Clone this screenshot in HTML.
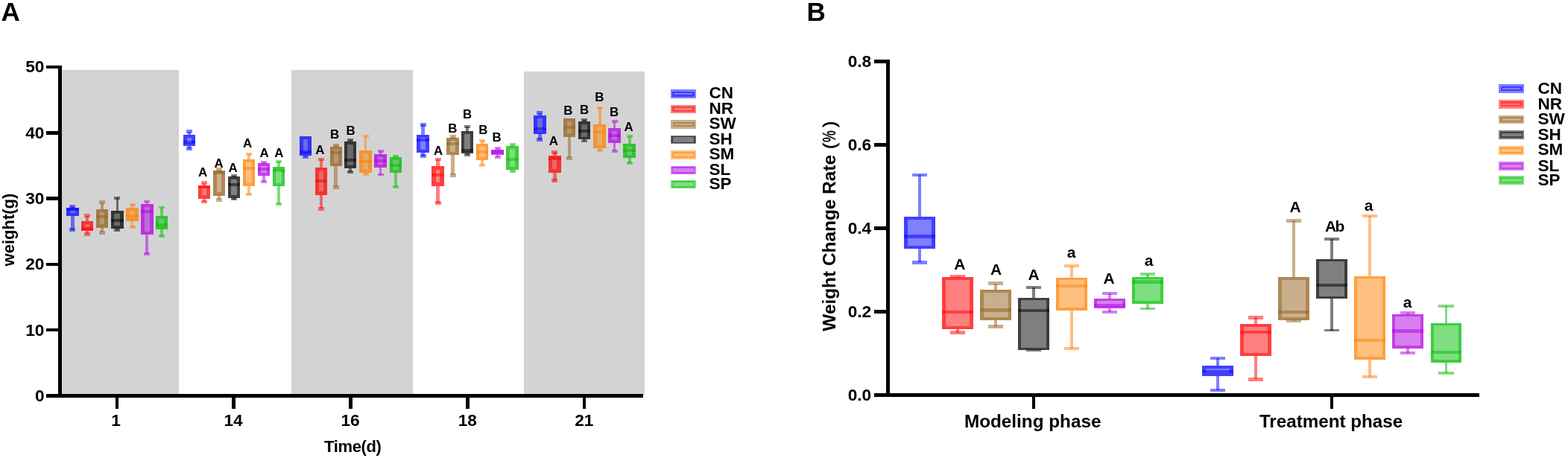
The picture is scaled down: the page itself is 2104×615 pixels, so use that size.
<!DOCTYPE html>
<html><head><meta charset="utf-8"><title>Figure</title>
<style>html,body{margin:0;padding:0;background:#fff;}svg{display:block;}</style>
</head><body>
<svg width="2104" height="615" viewBox="0 0 2104 615" font-family="'Liberation Sans', Arial, sans-serif" font-weight="bold" shape-rendering="crispEdges">
<rect width="2104" height="615" fill="#ffffff"/>
<rect x="83" y="94" width="156.6" height="435.6" fill="#d3d3d3"/>
<rect x="391" y="94" width="162.8" height="435.6" fill="#d3d3d3"/>
<rect x="703.2" y="95.6" width="161.8" height="434" fill="#d3d3d3"/>
<g fill="#0000ff" fill-opacity="0.5"><rect x="95.3" y="277" width="4.2" height="2"/><rect x="95.3" y="289.9" width="4.2" height="18.6"/><rect x="93.4" y="274.9" width="8" height="4.2"/><rect x="93.4" y="306.4" width="8" height="4.2"/><rect x="89.25" y="279" width="16.3" height="10.9"/><path fill-rule="evenodd" d="M89.25 279h16.3v10.9h-16.3z M94.26 283.31h6.28v2.28h-6.28z"/><rect x="89.25" y="279" width="16.3" height="4"/></g>
<g fill="#ff0000" fill-opacity="0.5"><rect x="114.85" y="289.5" width="4.5" height="7.3"/><rect x="114.85" y="309.9" width="4.5" height="4.4"/><rect x="113.1" y="287.25" width="8" height="4.5"/><rect x="113.1" y="312.05" width="8" height="4.5"/><rect x="108.95" y="296.8" width="16.3" height="13.1"/><path fill-rule="evenodd" d="M108.95 296.8h16.3v13.1h-16.3z M114.18 301.33h5.83v4.03h-5.83z"/><rect x="108.95" y="305" width="16.3" height="4"/></g>
<g fill="#94601c" fill-opacity="0.5"><rect x="134.65" y="271.5" width="4.7" height="9.5"/><rect x="134.65" y="305.6" width="4.7" height="6.6"/><rect x="133" y="269.15" width="8" height="4.7"/><rect x="133" y="309.85" width="8" height="4.7"/><rect x="128.85" y="281" width="16.3" height="24.6"/><path fill-rule="evenodd" d="M128.85 281h16.3v24.6h-16.3z M133.86 285.31h6.28v15.98h-6.28z"/><rect x="128.85" y="289.2" width="16.3" height="4"/></g>
<g fill="#000000" fill-opacity="0.5"><rect x="155.55" y="266" width="3.7" height="17.2"/><rect x="155.55" y="306.9" width="3.7" height="1.8"/><rect x="153.4" y="264.15" width="8" height="3.7"/><rect x="153.4" y="306.85" width="8" height="3.7"/><rect x="149.25" y="283.2" width="16.3" height="23.7"/><path fill-rule="evenodd" d="M149.25 283.2h16.3v23.7h-16.3z M153.48 286.73h7.84v16.64h-7.84z"/><rect x="149.25" y="293.8" width="16.3" height="4"/></g>
<g fill="#ff8000" fill-opacity="0.5"><rect x="175.55" y="275" width="3.9" height="3.9"/><rect x="175.55" y="296.6" width="3.9" height="8.4"/><rect x="173.5" y="273.05" width="8" height="3.9"/><rect x="173.5" y="303.05" width="8" height="3.9"/><rect x="169.35" y="278.9" width="16.3" height="17.7"/><path fill-rule="evenodd" d="M169.35 278.9h16.3v17.7h-16.3z M173.69 282.54h7.61v10.41h-7.61z"/><rect x="169.35" y="287.5" width="16.3" height="4"/></g>
<g fill="#b000e0" fill-opacity="0.5"><rect x="195.45" y="270.5" width="3.9" height="3.5"/><rect x="195.45" y="314.5" width="3.9" height="26.9"/><rect x="193.4" y="268.55" width="8" height="3.9"/><rect x="193.4" y="339.45" width="8" height="3.9"/><rect x="189.25" y="274" width="16.3" height="40.5"/><path fill-rule="evenodd" d="M189.25 274h16.3v40.5h-16.3z M193.59 277.64h7.61v33.21h-7.61z"/><rect x="189.25" y="281.5" width="16.3" height="4"/></g>
<g fill="#00be00" fill-opacity="0.5"><rect x="214.9" y="278.5" width="3.8" height="11.7"/><rect x="214.9" y="307.8" width="3.8" height="9"/><rect x="212.8" y="276.6" width="8" height="3.8"/><rect x="212.8" y="314.9" width="8" height="3.8"/><rect x="208.65" y="290.2" width="16.3" height="17.6"/><path fill-rule="evenodd" d="M208.65 290.2h16.3v17.6h-16.3z M213.1 293.95h7.39v10.09h-7.39z"/><rect x="208.65" y="300" width="16.3" height="4"/></g>
<g fill="#0000ff" fill-opacity="0.5"><rect x="251.9" y="176.5" width="4.2" height="4.6"/><rect x="251.9" y="196" width="4.2" height="3.5"/><rect x="250" y="174.4" width="8" height="4.2"/><rect x="250" y="197.4" width="8" height="4.2"/><rect x="245.85" y="181.1" width="16.3" height="14.9"/><path fill-rule="evenodd" d="M245.85 181.1h16.3v14.9h-16.3z M250.86 185.41h6.28v6.28h-6.28z"/><rect x="245.85" y="188.5" width="16.3" height="4"/></g>
<g fill="#ff0000" fill-opacity="0.5"><rect x="271.75" y="245.6" width="4.5" height="3.1"/><rect x="271.75" y="266.6" width="4.5" height="4.2"/><rect x="270" y="243.35" width="8" height="4.5"/><rect x="270" y="268.55" width="8" height="4.5"/><rect x="265.85" y="248.7" width="16.3" height="17.9"/><path fill-rule="evenodd" d="M265.85 248.7h16.3v17.9h-16.3z M271.08 253.23h5.83v8.83h-5.83z"/><rect x="265.85" y="249" width="16.3" height="4"/></g>
<g fill="#94601c" fill-opacity="0.5"><rect x="291.65" y="227.5" width="4.7" height="1.5"/><rect x="291.65" y="262.7" width="4.7" height="5.7"/><rect x="290" y="225.15" width="8" height="4.7"/><rect x="290" y="266.05" width="8" height="4.7"/><rect x="285.85" y="229" width="16.3" height="33.7"/><path fill-rule="evenodd" d="M285.85 229h16.3v33.7h-16.3z M290.86 233.31h6.28v25.08h-6.28z"/><rect x="285.85" y="229.5" width="16.3" height="4"/></g>
<g fill="#000000" fill-opacity="0.5"><rect x="312.15" y="235.7" width="3.7" height="1.4"/><rect x="312.15" y="265.7" width="3.7" height="1.8"/><rect x="310" y="233.85" width="8" height="3.7"/><rect x="310" y="265.65" width="8" height="3.7"/><rect x="305.85" y="237.1" width="16.3" height="28.6"/><path fill-rule="evenodd" d="M305.85 237.1h16.3v28.6h-16.3z M310.08 240.63h7.84v21.54h-7.84z"/><rect x="305.85" y="246.1" width="16.3" height="4"/></g>
<g fill="#ff8000" fill-opacity="0.5"><rect x="332.05" y="206.8" width="3.9" height="7.2"/><rect x="332.05" y="249.8" width="3.9" height="11.1"/><rect x="330" y="204.85" width="8" height="3.9"/><rect x="330" y="258.95" width="8" height="3.9"/><rect x="325.85" y="214" width="16.3" height="35.8"/><path fill-rule="evenodd" d="M325.85 214h16.3v35.8h-16.3z M330.19 217.64h7.61v28.51h-7.61z"/><rect x="325.85" y="223.9" width="16.3" height="4"/></g>
<g fill="#b000e0" fill-opacity="0.5"><rect x="352.05" y="218" width="3.9" height="1"/><rect x="352.05" y="235.8" width="3.9" height="8.1"/><rect x="350" y="216.05" width="8" height="3.9"/><rect x="350" y="241.95" width="8" height="3.9"/><rect x="345.85" y="219" width="16.3" height="16.8"/><path fill-rule="evenodd" d="M345.85 219h16.3v16.8h-16.3z M350.19 222.64h7.61v9.51h-7.61z"/><rect x="345.85" y="225.2" width="16.3" height="4"/></g>
<g fill="#00be00" fill-opacity="0.5"><rect x="372.1" y="217" width="3.8" height="6.8"/><rect x="372.1" y="249.8" width="3.8" height="24.2"/><rect x="370" y="215.1" width="8" height="3.8"/><rect x="370" y="272.1" width="8" height="3.8"/><rect x="365.85" y="223.8" width="16.3" height="26"/><path fill-rule="evenodd" d="M365.85 223.8h16.3v26h-16.3z M370.3 227.55h7.39v18.49h-7.39z"/><rect x="365.85" y="227" width="16.3" height="4"/></g>
<g fill="#0000ff" fill-opacity="0.5"><rect x="408.2" y="208.6" width="4.2" height="2.1"/><rect x="406.3" y="208.6" width="8" height="4.2"/><rect x="402.15" y="182.8" width="16.3" height="25.8"/><path fill-rule="evenodd" d="M402.15 182.8h16.3v25.8h-16.3z M407.16 187.11h6.28v17.18h-6.28z"/><rect x="402.15" y="201.6" width="16.3" height="4"/></g>
<g fill="#ff0000" fill-opacity="0.5"><rect x="428.65" y="214.1" width="4.5" height="10.8"/><rect x="428.65" y="261.9" width="4.5" height="18.4"/><rect x="426.9" y="211.85" width="8" height="4.5"/><rect x="426.9" y="278.05" width="8" height="4.5"/><rect x="422.75" y="224.9" width="16.3" height="37"/><path fill-rule="evenodd" d="M422.75 224.9h16.3v37h-16.3z M427.98 229.43h5.83v27.93h-5.83z"/><rect x="422.75" y="240.6" width="16.3" height="4"/></g>
<g fill="#94601c" fill-opacity="0.5"><rect x="448.45" y="194.9" width="4.7" height="2.1"/><rect x="448.45" y="223.4" width="4.7" height="27.8"/><rect x="446.8" y="192.55" width="8" height="4.7"/><rect x="446.8" y="248.85" width="8" height="4.7"/><rect x="442.65" y="197" width="16.3" height="26.4"/><path fill-rule="evenodd" d="M442.65 197h16.3v26.4h-16.3z M447.66 201.31h6.28v17.78h-6.28z"/><rect x="442.65" y="203" width="16.3" height="4"/></g>
<g fill="#000000" fill-opacity="0.5"><rect x="468.35" y="188.2" width="3.7" height="1.8"/><rect x="468.35" y="225.5" width="3.7" height="5.3"/><rect x="466.2" y="186.35" width="8" height="3.7"/><rect x="466.2" y="228.95" width="8" height="3.7"/><rect x="462.05" y="190" width="16.3" height="35.5"/><path fill-rule="evenodd" d="M462.05 190h16.3v35.5h-16.3z M466.28 193.53h7.84v28.44h-7.84z"/><rect x="462.05" y="213.2" width="16.3" height="4"/></g>
<g fill="#ff8000" fill-opacity="0.5"><rect x="488.55" y="183" width="3.9" height="19"/><rect x="488.55" y="231.8" width="3.9" height="2.5"/><rect x="486.5" y="181.05" width="8" height="3.9"/><rect x="486.5" y="232.35" width="8" height="3.9"/><rect x="482.35" y="202" width="16.3" height="29.8"/><path fill-rule="evenodd" d="M482.35 202h16.3v29.8h-16.3z M486.69 205.64h7.61v22.51h-7.61z"/><rect x="482.35" y="214.7" width="16.3" height="4"/></g>
<g fill="#b000e0" fill-opacity="0.5"><rect x="508.55" y="202.9" width="3.9" height="4.2"/><rect x="508.55" y="224.8" width="3.9" height="9.7"/><rect x="506.5" y="200.95" width="8" height="3.9"/><rect x="506.5" y="232.55" width="8" height="3.9"/><rect x="502.35" y="207.1" width="16.3" height="17.7"/><path fill-rule="evenodd" d="M502.35 207.1h16.3v17.7h-16.3z M506.69 210.74h7.61v10.41h-7.61z"/><rect x="502.35" y="213.8" width="16.3" height="4"/></g>
<g fill="#00be00" fill-opacity="0.5"><rect x="529.1" y="209.9" width="3.8" height="1.1"/><rect x="529.1" y="231.8" width="3.8" height="19.2"/><rect x="527" y="208" width="8" height="3.8"/><rect x="527" y="249.1" width="8" height="3.8"/><rect x="522.85" y="211" width="16.3" height="20.8"/><path fill-rule="evenodd" d="M522.85 211h16.3v20.8h-16.3z M527.3 214.75h7.39v13.29h-7.39z"/><rect x="522.85" y="220.1" width="16.3" height="4"/></g>
<g fill="#0000ff" fill-opacity="0.5"><rect x="565.4" y="167.4" width="4.2" height="13.6"/><rect x="565.4" y="205" width="4.2" height="4.5"/><rect x="563.5" y="165.3" width="8" height="4.2"/><rect x="563.5" y="207.4" width="8" height="4.2"/><rect x="559.35" y="181" width="16.3" height="24"/><path fill-rule="evenodd" d="M559.35 181h16.3v24h-16.3z M564.36 185.31h6.28v15.38h-6.28z"/><rect x="559.35" y="185.8" width="16.3" height="4"/></g>
<g fill="#ff0000" fill-opacity="0.5"><rect x="585.25" y="214.2" width="4.5" height="9"/><rect x="585.25" y="249.9" width="4.5" height="22.8"/><rect x="583.5" y="211.95" width="8" height="4.5"/><rect x="583.5" y="270.45" width="8" height="4.5"/><rect x="579.35" y="223.2" width="16.3" height="26.7"/><path fill-rule="evenodd" d="M579.35 223.2h16.3v26.7h-16.3z M584.58 227.73h5.83v17.63h-5.83z"/><rect x="579.35" y="233.1" width="16.3" height="4"/></g>
<g fill="#94601c" fill-opacity="0.5"><rect x="605.15" y="183.5" width="4.7" height="1.4"/><rect x="605.15" y="208.4" width="4.7" height="26.8"/><rect x="603.5" y="181.15" width="8" height="4.7"/><rect x="603.5" y="232.85" width="8" height="4.7"/><rect x="599.35" y="184.9" width="16.3" height="23.5"/><path fill-rule="evenodd" d="M599.35 184.9h16.3v23.5h-16.3z M604.36 189.21h6.28v14.88h-6.28z"/><rect x="599.35" y="190.6" width="16.3" height="4"/></g>
<g fill="#000000" fill-opacity="0.5"><rect x="625.15" y="170.2" width="3.7" height="5.8"/><rect x="625.15" y="206.1" width="3.7" height="1.7"/><rect x="623" y="168.35" width="8" height="3.7"/><rect x="623" y="205.95" width="8" height="3.7"/><rect x="618.85" y="176" width="16.3" height="30.1"/><path fill-rule="evenodd" d="M618.85 176h16.3v30.1h-16.3z M623.08 179.53h7.84v23.04h-7.84z"/><rect x="618.85" y="199.7" width="16.3" height="4"/></g>
<g fill="#ff8000" fill-opacity="0.5"><rect x="645.35" y="189.4" width="3.9" height="3.7"/><rect x="645.35" y="214.7" width="3.9" height="7"/><rect x="643.3" y="187.45" width="8" height="3.9"/><rect x="643.3" y="219.75" width="8" height="3.9"/><rect x="639.15" y="193.1" width="16.3" height="21.6"/><path fill-rule="evenodd" d="M639.15 193.1h16.3v21.6h-16.3z M643.49 196.74h7.61v14.31h-7.61z"/><rect x="639.15" y="202.3" width="16.3" height="4"/></g>
<g fill="#b000e0" fill-opacity="0.5"><rect x="665.55" y="199.1" width="3.9" height="1.8"/><rect x="665.55" y="207.7" width="3.9" height="3.5"/><rect x="663.5" y="197.15" width="8" height="3.9"/><rect x="663.5" y="209.25" width="8" height="3.9"/><rect x="659.35" y="200.9" width="16.3" height="6.8"/><rect x="659.35" y="200.9" width="16.3" height="6.8"/><rect x="659.35" y="202.3" width="16.3" height="4"/></g>
<g fill="#00be00" fill-opacity="0.5"><rect x="685.6" y="193.7" width="3.8" height="2.3"/><rect x="685.6" y="227.7" width="3.8" height="2"/><rect x="683.5" y="191.8" width="8" height="3.8"/><rect x="683.5" y="227.8" width="8" height="3.8"/><rect x="679.35" y="196" width="16.3" height="31.7"/><path fill-rule="evenodd" d="M679.35 196h16.3v31.7h-16.3z M683.8 199.75h7.39v24.19h-7.39z"/><rect x="679.35" y="211.8" width="16.3" height="4"/></g>
<g fill="#0000ff" fill-opacity="0.5"><rect x="722.3" y="151.5" width="4.2" height="3.4"/><rect x="722.3" y="179.9" width="4.2" height="7.6"/><rect x="720.4" y="149.4" width="8" height="4.2"/><rect x="720.4" y="185.4" width="8" height="4.2"/><rect x="716.25" y="154.9" width="16.3" height="25"/><path fill-rule="evenodd" d="M716.25 154.9h16.3v25h-16.3z M721.26 159.21h6.28v16.38h-6.28z"/><rect x="716.25" y="171.1" width="16.3" height="4"/></g>
<g fill="#ff0000" fill-opacity="0.5"><rect x="742.15" y="204.4" width="4.5" height="4.5"/><rect x="742.15" y="231.7" width="4.5" height="10.8"/><rect x="740.4" y="202.15" width="8" height="4.5"/><rect x="740.4" y="240.25" width="8" height="4.5"/><rect x="736.25" y="208.9" width="16.3" height="22.8"/><path fill-rule="evenodd" d="M736.25 208.9h16.3v22.8h-16.3z M741.48 213.43h5.83v13.73h-5.83z"/><rect x="736.25" y="210.5" width="16.3" height="4"/></g>
<g fill="#94601c" fill-opacity="0.5"><rect x="761.65" y="183.5" width="4.7" height="28.9"/><rect x="760" y="210.05" width="8" height="4.7"/><rect x="755.85" y="158.7" width="16.3" height="24.8"/><path fill-rule="evenodd" d="M755.85 158.7h16.3v24.8h-16.3z M760.86 163.01h6.28v16.18h-6.28z"/><rect x="755.85" y="169.3" width="16.3" height="4"/></g>
<g fill="#000000" fill-opacity="0.5"><rect x="782.15" y="161.1" width="3.7" height="1.9"/><rect x="782.15" y="187.3" width="3.7" height="2.1"/><rect x="780" y="159.25" width="8" height="3.7"/><rect x="780" y="187.55" width="8" height="3.7"/><rect x="775.85" y="163" width="16.3" height="24.3"/><path fill-rule="evenodd" d="M775.85 163h16.3v24.3h-16.3z M780.08 166.53h7.84v17.24h-7.84z"/><rect x="775.85" y="174.1" width="16.3" height="4"/></g>
<g fill="#ff8000" fill-opacity="0.5"><rect x="802.65" y="144.6" width="3.9" height="22.1"/><rect x="802.65" y="198.9" width="3.9" height="3.5"/><rect x="800.6" y="142.65" width="8" height="3.9"/><rect x="800.6" y="200.45" width="8" height="3.9"/><rect x="796.45" y="166.7" width="16.3" height="32.2"/><path fill-rule="evenodd" d="M796.45 166.7h16.3v32.2h-16.3z M800.79 170.34h7.61v24.91h-7.61z"/><rect x="796.45" y="175" width="16.3" height="4"/></g>
<g fill="#b000e0" fill-opacity="0.5"><rect x="822.55" y="162.9" width="3.9" height="9.1"/><rect x="822.55" y="191.9" width="3.9" height="11"/><rect x="820.5" y="160.95" width="8" height="3.9"/><rect x="820.5" y="200.95" width="8" height="3.9"/><rect x="816.35" y="172" width="16.3" height="19.9"/><path fill-rule="evenodd" d="M816.35 172h16.3v19.9h-16.3z M820.69 175.64h7.61v12.61h-7.61z"/><rect x="816.35" y="179.6" width="16.3" height="4"/></g>
<g fill="#00be00" fill-opacity="0.5"><rect x="842.7" y="182.9" width="3.8" height="10.3"/><rect x="842.7" y="212" width="3.8" height="6.7"/><rect x="840.6" y="181" width="8" height="3.8"/><rect x="840.6" y="216.8" width="8" height="3.8"/><rect x="836.45" y="193.2" width="16.3" height="18.8"/><path fill-rule="evenodd" d="M836.45 193.2h16.3v18.8h-16.3z M840.9 196.95h7.39v11.29h-7.39z"/><rect x="836.45" y="199.8" width="16.3" height="4"/></g>
<g fill="#0000ff" fill-opacity="0.5"><rect x="1231.8" y="235" width="4.2" height="56.2"/><rect x="1231.8" y="333.9" width="4.2" height="18.5"/><rect x="1223.7" y="232.9" width="20.4" height="4.2"/><rect x="1223.7" y="350.3" width="20.4" height="4.2"/><rect x="1213" y="291.2" width="41.8" height="42.7"/><path fill-rule="evenodd" d="M1213 291.2h41.8v42.7h-41.8z M1217.5 295h32.8v35.1h-32.8z"/><rect x="1213" y="315.3" width="41.8" height="4.2"/></g>
<g fill="#ff0000" fill-opacity="0.5"><rect x="1282.75" y="371" width="4.5" height="1.1"/><rect x="1282.75" y="441.9" width="4.5" height="4.6"/><rect x="1274.8" y="368.75" width="20.4" height="4.5"/><rect x="1274.8" y="444.25" width="20.4" height="4.5"/><rect x="1264.1" y="372.1" width="41.8" height="69.8"/><path fill-rule="evenodd" d="M1264.1 372.1h41.8v69.8h-41.8z M1268.8 376.1h32.4v61.8h-32.4z"/><rect x="1264.1" y="416.5" width="41.8" height="4.2"/></g>
<g fill="#94601c" fill-opacity="0.5"><rect x="1333.75" y="380.5" width="4.7" height="8.5"/><rect x="1333.75" y="429.9" width="4.7" height="8.7"/><rect x="1325.9" y="378.15" width="20.4" height="4.7"/><rect x="1325.9" y="436.25" width="20.4" height="4.7"/><rect x="1315.2" y="389" width="41.8" height="40.9"/><path fill-rule="evenodd" d="M1315.2 389h41.8v40.9h-41.8z M1319.7 392.8h32.8v33.3h-32.8z"/><rect x="1315.2" y="414.4" width="41.8" height="4.2"/></g>
<g fill="#000000" fill-opacity="0.5"><rect x="1385.15" y="385.7" width="3.7" height="14.5"/><rect x="1376.8" y="383.85" width="20.4" height="3.7"/><rect x="1376.8" y="468.65" width="20.4" height="3.7"/><rect x="1366.1" y="400.2" width="41.8" height="70.1"/><path fill-rule="evenodd" d="M1366.1 400.2h41.8v70.1h-41.8z M1369.9 403.3h34.2v63.9h-34.2z"/><rect x="1366.1" y="415.2" width="41.8" height="4.2"/></g>
<g fill="#ff8000" fill-opacity="0.5"><rect x="1435.85" y="357" width="3.9" height="16.2"/><rect x="1435.85" y="416.6" width="3.9" height="51.4"/><rect x="1427.6" y="355.05" width="20.4" height="3.9"/><rect x="1427.6" y="466.05" width="20.4" height="3.9"/><rect x="1416.9" y="373.2" width="41.8" height="43.4"/><path fill-rule="evenodd" d="M1416.9 373.2h41.8v43.4h-41.8z M1420.8 376.4h34v37h-34z"/><rect x="1416.9" y="381.9" width="41.8" height="4.2"/></g>
<g fill="#b000e0" fill-opacity="0.5"><rect x="1487.05" y="393.9" width="3.9" height="7"/><rect x="1487.05" y="413.8" width="3.9" height="5.1"/><rect x="1478.8" y="391.95" width="20.4" height="3.9"/><rect x="1478.8" y="416.95" width="20.4" height="3.9"/><rect x="1468.1" y="400.9" width="41.8" height="12.9"/><path fill-rule="evenodd" d="M1468.1 400.9h41.8v12.9h-41.8z M1472 404.1h34v6.5h-34z"/><rect x="1468.1" y="407.9" width="41.8" height="4.2"/></g>
<g fill="#00be00" fill-opacity="0.5"><rect x="1538" y="368.2" width="3.8" height="3.8"/><rect x="1538" y="407.6" width="3.8" height="6.9"/><rect x="1529.7" y="366.3" width="20.4" height="3.8"/><rect x="1529.7" y="412.6" width="20.4" height="3.8"/><rect x="1519" y="372" width="41.8" height="35.6"/><path fill-rule="evenodd" d="M1519 372h41.8v35.6h-41.8z M1523 375.3h33.8v29h-33.8z"/><rect x="1519" y="376.4" width="41.8" height="4.2"/></g>
<g fill="#0000ff" fill-opacity="0.5"><rect x="1631.9" y="481" width="4.2" height="9.9"/><rect x="1631.9" y="504.6" width="4.2" height="19.5"/><rect x="1623.8" y="478.9" width="20.4" height="4.2"/><rect x="1623.8" y="522" width="20.4" height="4.2"/><rect x="1613.1" y="490.9" width="41.8" height="13.7"/><path fill-rule="evenodd" d="M1613.1 490.9h41.8v13.7h-41.8z M1617.6 494.7h32.8v6.1h-32.8z"/><rect x="1613.1" y="496.6" width="41.8" height="4.2"/></g>
<g fill="#ff0000" fill-opacity="0.5"><rect x="1682.55" y="426.4" width="4.5" height="8.5"/><rect x="1682.55" y="477.8" width="4.5" height="31.5"/><rect x="1674.6" y="424.15" width="20.4" height="4.5"/><rect x="1674.6" y="507.05" width="20.4" height="4.5"/><rect x="1663.9" y="434.9" width="41.8" height="42.9"/><path fill-rule="evenodd" d="M1663.9 434.9h41.8v42.9h-41.8z M1668.6 438.9h32.4v34.9h-32.4z"/><rect x="1663.9" y="443.9" width="41.8" height="4.2"/></g>
<g fill="#94601c" fill-opacity="0.5"><rect x="1733.65" y="296.4" width="4.7" height="75.6"/><rect x="1733.65" y="429.8" width="4.7" height="1.2"/><rect x="1725.8" y="294.05" width="20.4" height="4.7"/><rect x="1725.8" y="428.65" width="20.4" height="4.7"/><rect x="1715.1" y="372" width="41.8" height="57.8"/><path fill-rule="evenodd" d="M1715.1 372h41.8v57.8h-41.8z M1719.6 375.8h32.8v50.2h-32.8z"/><rect x="1715.1" y="416.8" width="41.8" height="4.2"/></g>
<g fill="#000000" fill-opacity="0.5"><rect x="1785.15" y="321" width="3.7" height="27"/><rect x="1785.15" y="400.6" width="3.7" height="42.9"/><rect x="1776.8" y="319.15" width="20.4" height="3.7"/><rect x="1776.8" y="441.65" width="20.4" height="3.7"/><rect x="1766.1" y="348" width="41.8" height="52.6"/><path fill-rule="evenodd" d="M1766.1 348h41.8v52.6h-41.8z M1769.9 351.1h34.2v46.4h-34.2z"/><rect x="1766.1" y="380.9" width="41.8" height="4.2"/></g>
<g fill="#ff8000" fill-opacity="0.5"><rect x="1835.85" y="290" width="3.9" height="81"/><rect x="1835.85" y="482.6" width="3.9" height="23.4"/><rect x="1827.6" y="288.05" width="20.4" height="3.9"/><rect x="1827.6" y="504.05" width="20.4" height="3.9"/><rect x="1816.9" y="371" width="41.8" height="111.6"/><path fill-rule="evenodd" d="M1816.9 371h41.8v111.6h-41.8z M1820.8 374.2h34v105.2h-34z"/><rect x="1816.9" y="454.9" width="41.8" height="4.2"/></g>
<g fill="#b000e0" fill-opacity="0.5"><rect x="1886.95" y="420" width="3.9" height="2.1"/><rect x="1886.95" y="467.5" width="3.9" height="6.3"/><rect x="1878.7" y="418.05" width="20.4" height="3.9"/><rect x="1878.7" y="471.85" width="20.4" height="3.9"/><rect x="1868" y="422.1" width="41.8" height="45.4"/><path fill-rule="evenodd" d="M1868 422.1h41.8v45.4h-41.8z M1871.9 425.3h34v39h-34z"/><rect x="1868" y="442.3" width="41.8" height="4.2"/></g>
<g fill="#00be00" fill-opacity="0.5"><rect x="1938.6" y="411" width="3.8" height="23"/><rect x="1938.6" y="486.6" width="3.8" height="14.1"/><rect x="1930.3" y="409.1" width="20.4" height="3.8"/><rect x="1930.3" y="498.8" width="20.4" height="3.8"/><rect x="1919.6" y="434" width="41.8" height="52.6"/><path fill-rule="evenodd" d="M1919.6 434h41.8v52.6h-41.8z M1923.6 437.3h33.8v46h-33.8z"/><rect x="1919.6" y="470.5" width="41.8" height="4.2"/></g>
<g fill="#000">
<rect x="78.2" y="88" width="4.6" height="446.2"/>
<rect x="62.4" y="529.2" width="800.8" height="4.6"/>
<rect x="62.4" y="529.3" width="20" height="4.4"/>
<rect x="62.4" y="441" width="20" height="4.4"/>
<rect x="62.4" y="352.7" width="20" height="4.4"/>
<rect x="62.4" y="264.4" width="20" height="4.4"/>
<rect x="62.4" y="176.1" width="20" height="4.4"/>
<rect x="62.4" y="87.8" width="20" height="4.4"/>
<rect x="154.8" y="531" width="4.4" height="18"/>
<rect x="311.1" y="531" width="4.4" height="18"/>
<rect x="468.1" y="531" width="4.4" height="18"/>
<rect x="625.3" y="531" width="4.4" height="18"/>
<rect x="781.8" y="531" width="4.4" height="18"/>
</g>
<g fill="#000">
<rect x="1189.2" y="80.2" width="4.6" height="452.4"/>
<rect x="1173.1" y="528" width="811.7" height="4.6"/>
<rect x="1173.1" y="528" width="20" height="4.6"/>
<rect x="1173.1" y="416.05" width="20" height="4.6"/>
<rect x="1173.1" y="304.1" width="20" height="4.6"/>
<rect x="1173.1" y="192.15" width="20" height="4.6"/>
<rect x="1173.1" y="80.2" width="20" height="4.6"/>
<rect x="1384.5" y="530" width="4.4" height="19"/>
<rect x="1784.8" y="530" width="4.4" height="19"/>
</g>
<text x="59.5" y="538.9" font-size="22.7" text-anchor="end">0</text>
<text x="59.5" y="450.6" font-size="22.7" text-anchor="end">10</text>
<text x="59.5" y="362.3" font-size="22.7" text-anchor="end">20</text>
<text x="59.5" y="274" font-size="22.7" text-anchor="end">30</text>
<text x="59.5" y="185.7" font-size="22.7" text-anchor="end">40</text>
<text x="59.5" y="97.4" font-size="22.7" text-anchor="end">50</text>
<text x="155.5" y="572.1" font-size="22.7" text-anchor="middle">1</text>
<text x="313.1" y="572.1" font-size="22.7" text-anchor="middle">14</text>
<text x="470.1" y="572.1" font-size="22.7" text-anchor="middle">16</text>
<text x="627.3" y="572.1" font-size="22.7" text-anchor="middle">18</text>
<text x="783.8" y="572.1" font-size="22.7" text-anchor="middle">21</text>
<text x="473.3" y="607.2" font-size="22" text-anchor="middle" letter-spacing="-0.35">Time(d)</text>
<text x="18.8" y="308.5" font-size="22" text-anchor="middle" transform="rotate(-90 18.8 308.5)">weight(g)</text>
<text x="1169.2" y="537.9" font-size="22.7" text-anchor="end">0.0</text>
<text x="1169.2" y="425.95" font-size="22.7" text-anchor="end">0.2</text>
<text x="1169.2" y="314" font-size="22.7" text-anchor="end">0.4</text>
<text x="1169.2" y="202.05" font-size="22.7" text-anchor="end">0.6</text>
<text x="1169.2" y="90.1" font-size="22.7" text-anchor="end">0.8</text>
<text x="1385.7" y="573.6" font-size="24.3" text-anchor="middle">Modeling phase</text>
<text x="1786" y="573.6" font-size="24.2" text-anchor="middle">Treatment phase</text>
<text transform="translate(1121.4 444.7) rotate(-90)" font-size="24.4" text-anchor="start">Weight Change Rate</text>
<text transform="translate(1121.4 196.0) rotate(-90)" font-size="24" font-weight="normal" stroke="#000" stroke-width="0.7" text-anchor="middle">(</text>
<text transform="translate(1121.4 183.0) rotate(-90) scale(0.74 1)" font-size="24" font-weight="normal" stroke="#000" stroke-width="0.5" text-anchor="middle">%</text>
<text transform="translate(1121.4 166.8) rotate(-90)" font-size="24" font-weight="normal" stroke="#000" stroke-width="0.7" text-anchor="middle">)</text>
<text x="1.6" y="28" font-size="35" text-anchor="start">A</text>
<text x="1082.6" y="28" font-size="35" text-anchor="start">B</text>
<text x="272.2" y="236.6" font-size="16.9" text-anchor="middle">A</text>
<text x="293.7" y="224.6" font-size="16.9" text-anchor="middle">A</text>
<text x="312.6" y="230.5" font-size="16.9" text-anchor="middle">A</text>
<text x="332" y="198.3" font-size="16.9" text-anchor="middle">A</text>
<text x="354.6" y="211" font-size="16.9" text-anchor="middle">A</text>
<text x="374.3" y="211" font-size="16.9" text-anchor="middle">A</text>
<text x="429.4" y="206.9" font-size="16.9" text-anchor="middle">A</text>
<text x="449" y="186" font-size="16.9" text-anchor="middle">B</text>
<text x="470.6" y="180.5" font-size="16.9" text-anchor="middle">B</text>
<text x="588" y="208.4" font-size="16.9" text-anchor="middle">A</text>
<text x="607.4" y="178.3" font-size="16.9" text-anchor="middle">B</text>
<text x="627.1" y="159.4" font-size="16.9" text-anchor="middle">B</text>
<text x="648.3" y="180.1" font-size="16.9" text-anchor="middle">B</text>
<text x="666.7" y="189.5" font-size="16.9" text-anchor="middle">B</text>
<text x="742.9" y="195.1" font-size="16.9" text-anchor="middle">A</text>
<text x="762.3" y="153.9" font-size="16.9" text-anchor="middle">B</text>
<text x="784.1" y="153.2" font-size="16.9" text-anchor="middle">B</text>
<text x="804.4" y="135.8" font-size="16.9" text-anchor="middle">B</text>
<text x="824.1" y="156.1" font-size="16.9" text-anchor="middle">B</text>
<text x="843.7" y="175.6" font-size="16.9" text-anchor="middle">A</text>
<text x="1287.8" y="362.2" font-size="21" text-anchor="middle">A</text>
<text x="1336.5" y="368.5" font-size="21" text-anchor="middle">A</text>
<text x="1387.2" y="376" font-size="21" text-anchor="middle">A</text>
<text x="1437.7" y="346" font-size="21" text-anchor="middle">a</text>
<text x="1488.1" y="380.7" font-size="21" text-anchor="middle">A</text>
<text x="1541.7" y="356.8" font-size="21" text-anchor="middle">a</text>
<text x="1738" y="284.9" font-size="21" text-anchor="middle">A</text>
<text x="1791.2" y="311.3" font-size="21" text-anchor="middle">A<tspan dx="-1.8">b</tspan></text>
<text x="1836.7" y="283.3" font-size="21" text-anchor="middle">a</text>
<text x="1888.5" y="413.3" font-size="21" text-anchor="middle">a</text>
<rect x="902.35" y="122.5" width="29.3" height="7" fill="#0000ff" fill-opacity="0.5" stroke="#0000ff" stroke-opacity="0.5" stroke-width="4.7"/>
<text x="951.6" y="132.4" font-size="22.5" text-anchor="start">CN</text>
<rect x="902.3" y="142.95" width="29.4" height="7.1" fill="#ff0000" fill-opacity="0.5" stroke="#ff0000" stroke-opacity="0.5" stroke-width="4.6"/>
<text x="951.6" y="153" font-size="22.5" text-anchor="start">NR</text>
<rect x="902.5" y="163.65" width="29" height="6.7" fill="#94601c" fill-opacity="0.5" stroke="#94601c" stroke-opacity="0.5" stroke-width="5"/>
<text x="951.6" y="173.3" font-size="22.5" text-anchor="start">SW</text>
<rect x="901.4" y="183.05" width="31.2" height="8.9" fill="#000000" fill-opacity="0.5" stroke="#000000" stroke-opacity="0.5" stroke-width="2.8"/>
<text x="951.6" y="193.8" font-size="22.5" text-anchor="start">SH</text>
<rect x="901.95" y="204.1" width="30.1" height="7.8" fill="#ff8000" fill-opacity="0.5" stroke="#ff8000" stroke-opacity="0.5" stroke-width="3.9"/>
<text x="951.6" y="214.3" font-size="22.5" text-anchor="start">SM</text>
<rect x="901.7" y="224.35" width="30.6" height="8.3" fill="#b000e0" fill-opacity="0.5" stroke="#b000e0" stroke-opacity="0.5" stroke-width="3.4"/>
<text x="951.6" y="234.8" font-size="22.5" text-anchor="start">SL</text>
<rect x="901.55" y="243.2" width="30.9" height="8.6" fill="#00be00" fill-opacity="0.5" stroke="#00be00" stroke-opacity="0.5" stroke-width="3.1"/>
<text x="951.6" y="253.7" font-size="22.5" text-anchor="start">SP</text>
<rect x="2013.5" y="115.55" width="29.2" height="6.9" fill="#0000ff" fill-opacity="0.5" stroke="#0000ff" stroke-opacity="0.5" stroke-width="4.8"/>
<text x="2063.4" y="125.7" font-size="22.5" text-anchor="start">CN</text>
<rect x="2013.52" y="136.48" width="29.15" height="6.85" fill="#ff0000" fill-opacity="0.5" stroke="#ff0000" stroke-opacity="0.5" stroke-width="4.85"/>
<text x="2063.4" y="146.9" font-size="22.5" text-anchor="start">NR</text>
<rect x="2013.3" y="156.75" width="29.6" height="7.3" fill="#94601c" fill-opacity="0.5" stroke="#94601c" stroke-opacity="0.5" stroke-width="4.4"/>
<text x="2063.4" y="167.3" font-size="22.5" text-anchor="start">SW</text>
<rect x="2012.8" y="176.85" width="30.6" height="8.3" fill="#000000" fill-opacity="0.5" stroke="#000000" stroke-opacity="0.5" stroke-width="3.4"/>
<text x="2063.4" y="187.9" font-size="22.5" text-anchor="start">SH</text>
<rect x="2012.95" y="197.9" width="30.3" height="8" fill="#ff8000" fill-opacity="0.5" stroke="#ff8000" stroke-opacity="0.5" stroke-width="3.7"/>
<text x="2063.4" y="208.3" font-size="22.5" text-anchor="start">SM</text>
<rect x="2012.9" y="218.95" width="30.4" height="8.1" fill="#b000e0" fill-opacity="0.5" stroke="#b000e0" stroke-opacity="0.5" stroke-width="3.6"/>
<text x="2063.4" y="229.6" font-size="22.5" text-anchor="start">SL</text>
<rect x="2012.9" y="237.95" width="30.4" height="8.1" fill="#00be00" fill-opacity="0.5" stroke="#00be00" stroke-opacity="0.5" stroke-width="3.6"/>
<text x="2063.4" y="248.8" font-size="22.5" text-anchor="start">SP</text>
</svg>
</body></html>
